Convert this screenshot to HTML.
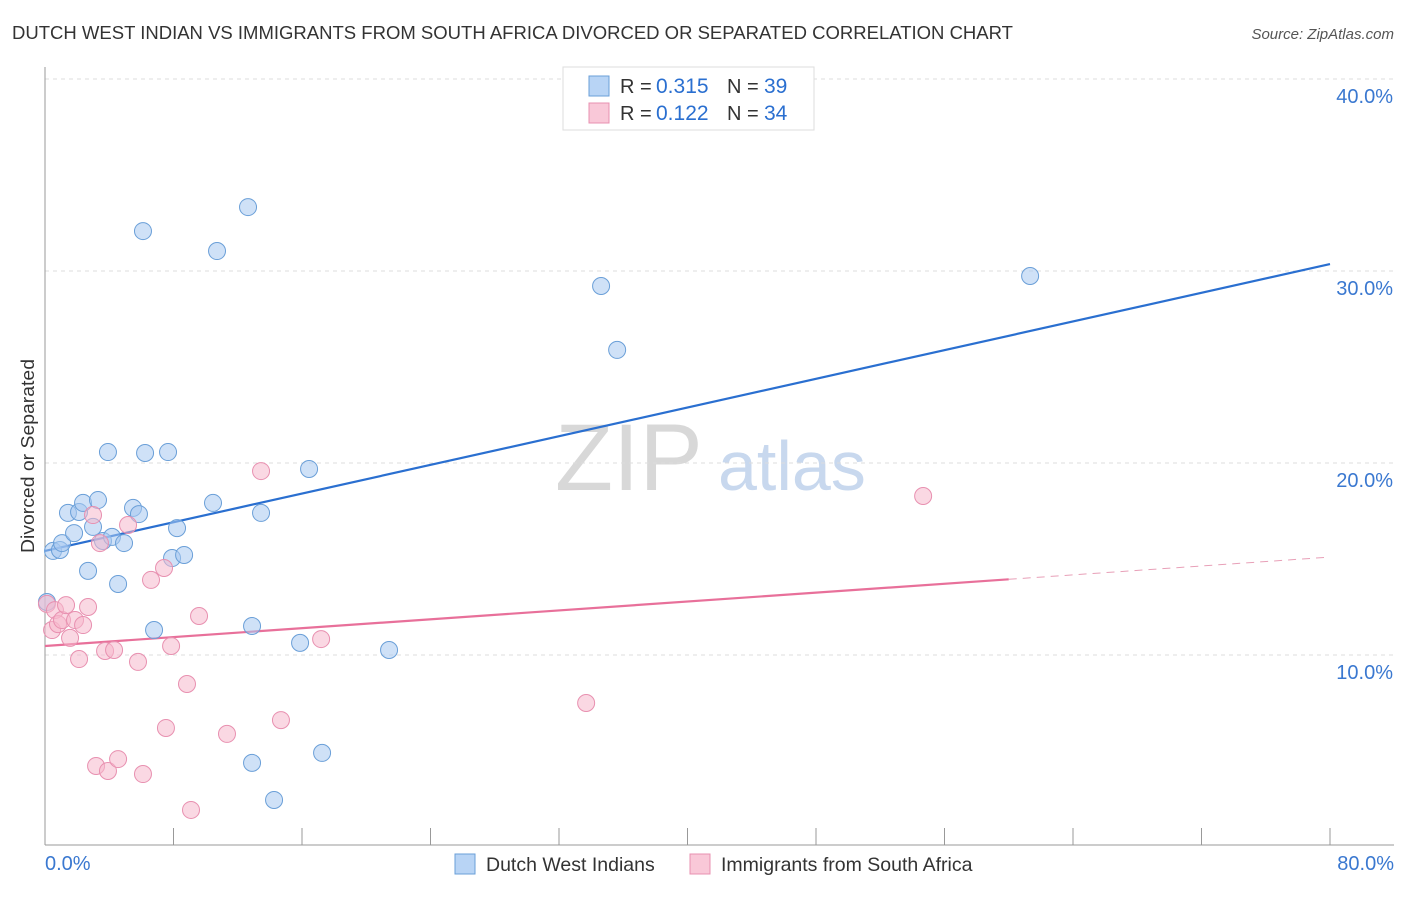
<!DOCTYPE html>
<html><head><meta charset="utf-8"><style>
body{margin:0;background:#fff;font-family:"Liberation Sans",sans-serif;}
svg text{font-family:"Liberation Sans",sans-serif;}
</style></head><body>
<svg id="chart" width="1406" height="892">
<text x="12" y="39" font-size="18.5" fill="#333" textLength="1001" lengthAdjust="spacingAndGlyphs">DUTCH WEST INDIAN VS IMMIGRANTS FROM SOUTH AFRICA DIVORCED OR SEPARATED CORRELATION CHART</text>
<text x="1394" y="39" font-size="15" fill="#555" font-style="italic" text-anchor="end">Source: ZipAtlas.com</text>
<text x="34" y="456" font-size="18" fill="#333" text-anchor="middle" textLength="194" lengthAdjust="spacingAndGlyphs" transform="rotate(-90 34 456)">Divorced or Separated</text>
<text x="555" y="490" font-size="95" fill="#d8d8d8" font-family="Liberation Serif">ZIP</text>
<text x="718" y="490" font-size="70" fill="#c8d8ee">atlas</text>
<g id="grid"></g><g id="axes"></g><g id="trends"></g><g id="pts"></g>
<g>
<rect x="563" y="67" width="251" height="63" fill="#fff" stroke="#ddd"/>
<rect x="589" y="76" width="20" height="20" fill="#b8d4f5" stroke="#6a9fd8"/>
<rect x="589" y="103" width="20" height="20" fill="#f9c8d8" stroke="#e890b0"/>
<text x="620" y="93" font-size="20" fill="#333">R =</text>
<text x="656" y="93" font-size="21" fill="#2a6fd0">0.315</text>
<text x="727" y="93" font-size="20" fill="#333">N =</text>
<text x="764" y="93" font-size="21" fill="#2a6fd0">39</text>
<text x="620" y="120" font-size="20" fill="#333">R =</text>
<text x="656" y="120" font-size="21" fill="#2a6fd0">0.122</text>
<text x="727" y="120" font-size="20" fill="#333">N =</text>
<text x="764" y="120" font-size="21" fill="#2a6fd0">34</text>
</g>
<g>
<rect x="455" y="854" width="20" height="20" fill="#b8d4f5" stroke="#6a9fd8"/>
<text x="486" y="871" font-size="19.5" fill="#333">Dutch West Indians</text>
<rect x="690" y="854" width="20" height="20" fill="#f9c8d8" stroke="#e890b0"/>
<text x="721" y="871" font-size="19.5" fill="#333">Immigrants from South Africa</text>
</g>
</svg>
<script>
const yTicks=[10,20,30,40];
const yTickLabels=["10.0%","20.0%","30.0%","40.0%"];
const xTickLabels=["0.0%","80.0%"];
const blueX=[0.12,0.5,0.93,1.06,1.43,1.81,2.12,2.37,2.68,2.99,3.30,3.61,3.92,4.17,4.55,4.92,5.48,5.85,6.10,6.23,6.79,7.66,7.91,8.22,8.66,10.46,10.71,12.64,12.89,12.89,13.45,14.26,15.88,16.44,17.25,21.42,34.62,35.62,61.33];
const blueY=[12.76,15.42,15.47,15.83,17.40,16.35,17.45,17.92,14.38,16.67,18.07,15.94,20.57,16.15,13.70,15.83,17.66,17.34,32.08,20.52,11.30,20.57,15.05,16.61,15.21,17.92,31.04,33.33,11.51,4.38,17.40,2.45,10.63,19.69,4.90,10.26,29.22,25.89,29.74];
const pinkX=[0.12,0.44,0.62,0.81,1.06,1.31,1.56,1.87,2.12,2.37,2.68,2.99,3.18,3.42,3.74,3.92,4.30,4.55,5.17,5.79,6.10,6.60,7.41,7.53,7.85,8.84,9.09,9.59,11.33,13.45,14.69,17.19,33.69,54.67];
const pinkY=[12.66,11.30,12.34,11.61,11.82,12.60,10.89,11.82,9.79,11.56,12.50,17.29,4.22,15.83,10.21,3.96,10.26,4.58,16.77,9.64,3.80,13.91,14.53,6.20,10.47,8.49,1.93,12.03,5.89,19.58,6.61,10.83,7.50,18.28];
const blueTrend=[15.42,30.36];
const pinkTrend=[10.47,15.10];
const pinkSolidEnd=60;
const NS="http://www.w3.org/2000/svg";
const sx=v=>45+v*(1285/80), sy=v=>847-v*19.2;
function mk(parent,tag,attrs){const e=document.createElementNS(NS,tag);for(const k in attrs)e.setAttribute(k,attrs[k]);document.getElementById(parent).appendChild(e);return e;}
yTicks.forEach((t,i)=>{
 const g=mk('grid','line',{x1:45,x2:1394,y1:sy(t),y2:sy(t),stroke:'#ddd','stroke-dasharray':'4,4'});
 
 
 const l=mk('grid','text',{x:1393,y:sy(t)+24,'font-size':20,fill:'#3a78d0','text-anchor':'end'});
 l.textContent=yTickLabels[i];
 
 
});
const ax=mk('axes','line',{x1:45,x2:1394,y1:845,y2:845,stroke:'#999'});


const ay=mk('axes','line',{x1:45,x2:45,y1:67,y2:845,stroke:'#999'});


for(let i=0;i<=10;i++){const t=mk('axes','line',{x1:sx(i*8),x2:sx(i*8),y1:828,y2:845,stroke:'#999'});
 
 }
[[0,'start',45],[1,'end',1394]].forEach(([i,a,x])=>{const l=mk('axes','text',{x:x,y:870,'font-size':20,fill:'#3a78d0','text-anchor':a});l.textContent=xTickLabels[i];
 
 });
function pts(xs,ys,fill,stroke,name){xs.forEach((x,i)=>{const c=mk('pts','circle',{cx:sx(x),cy:sy(ys[i]),r:8.5,fill:fill,'fill-opacity':0.55,stroke:stroke,'stroke-width':1});
 
 });}
pts(blueX,blueY,'#a8c8f0','#6a9fd8','blue-point');
pts(pinkX,pinkY,'#f5b8cc','#e890b0','pink-point');
const bl=mk('trends','line',{x1:sx(0),y1:sy(blueTrend[0]),x2:sx(80),y2:sy(blueTrend[1]),stroke:'#2a6fd0','stroke-width':2.2});


const pe=pinkTrend[0]+(pinkTrend[1]-pinkTrend[0])*pinkSolidEnd/80;
const pl=mk('trends','line',{x1:sx(0),y1:sy(pinkTrend[0]),x2:sx(pinkSolidEnd),y2:sy(pe),stroke:'#e8709a','stroke-width':2.2});


const pd=mk('trends','line',{x1:sx(pinkSolidEnd),y1:sy(pe),x2:sx(80),y2:sy(pinkTrend[1]),stroke:'#e8a0b8','stroke-width':1,'stroke-dasharray':'8,6'});


</script>
</body></html>
